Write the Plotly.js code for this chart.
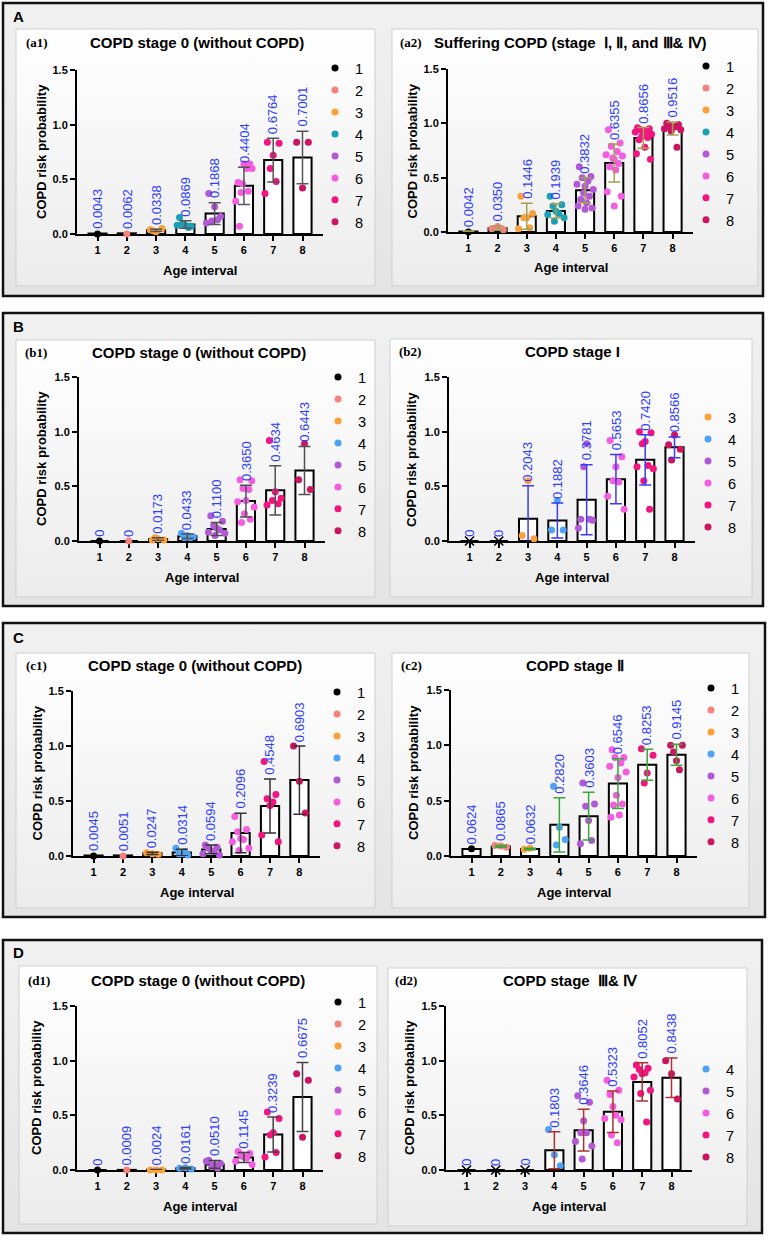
<!DOCTYPE html>
<html><head><meta charset="utf-8">
<script src="https://cdn.plot.ly/plotly-3.0.1.min.js"></script>
<style>html,body{margin:0;padding:0;background:#fff;}#chart{width:770px;height:1240px;}</style>
</head><body><div id="chart"></div>
<script>
const categories = [1, 2, 3, 4, 5, 6, 7, 8];
const seriesNames = ['1', '2', '3', '4', '5', '6', '7', '8'];

const a1Means = [0.0043, 0.0062, 0.0338, 0.0869, 0.1868, 0.4404, 0.6764, 0.7001];
const a1SD = [null, null, 0.01, 0.035, 0.10, 0.17, 0.20, 0.24];
const a1Points = [[0], [0], [0.02, 0.04, 0.05, 0.03], [0.08, 0.15, 0.07, 0.09, 0.06, 0.08],
  [0.25, 0.37, 0.16, 0.12, 0.13, 0.10], [0.64, 0.47, 0.64, 0.38, 0.60, 0.30, 0.60, 0.46, 0.39, 0.07],
  [0.72, 0.84, 0.83, 0.60, 0.48, 0.37], [0.42, 0.84, 0.84]];

const a2Means = [0.0042, 0.0350, 0.1446, 0.1939, 0.3832, 0.6355, 0.8656, 0.9516];
const a2SD = [0.006, 0.02, 0.12, 0.065, 0.115, 0.175, 0.095, 0.06];
const a2Points = [[0], [0.05, 0.03, 0.02], [0.13, 0.33, 0.17, 0.13, 0.04, 0.03],
  [0.19, 0.33, 0.25, 0.24, 0.17, 0.16, 0.13, 0.10],
  [0.42, 0.60, 0.51, 0.50, 0.47, 0.44, 0.39, 0.36, 0.33, 0.30, 0.27, 0.24, 0.22, 0.21],
  [0.67, 0.94, 0.82, 0.79, 0.74, 0.71, 0.70, 0.68, 0.63, 0.60, 0.57, 0.37, 0.33, 0.24],
  [0.91, 0.96, 0.95, 0.94, 0.93, 0.92, 0.90, 0.88, 0.87, 0.85, 0.78, 0.72, 0.67],
  [0.96, 1.00, 0.99, 0.98, 0.97, 0.95, 0.94, 0.93, 0.78]];

const b1Means = [0, 0, 0.0173, 0.0433, 0.1100, 0.3650, 0.4634, 0.6443];
const b1SD = [null, null, 0.012, 0.02, 0.06, 0.145, 0.225, 0.22];
const b1Points = [[0], [0], [0.02, 0.01, 0.01, 0.03], [0.05, 0.07, 0.04, 0.03, 0.03],
  [0.12, 0.23, 0.18, 0.14, 0.10, 0.08, 0.07, 0.05],
  [0.37, 0.56, 0.55, 0.48, 0.47, 0.36, 0.31, 0.25, 0.20, 0.17],
  [0.45, 0.92, 0.39, 0.37, 0.34, 0.33], [0.89, 0.56, 0.47]];

const b2Means = [0, 0, 0.2043, 0.1882, 0.3781, 0.5653, 0.7420, 0.8566];
const b2SD = [null, null, 0.30, 0.16, 0.32, 0.225, 0.23, 0.095];
const b2Points = [[], [], [0.55, 0.05, 0.02], [0.37, 0.10, 0.10], [0.89, 0.20, 0.19, 0.68, 0.20, 0.12],
  [0.68, 0.92, 0.77, 0.55, 0.54, 0.41, 0.29], [0.91, 1.0, 0.99, 0.89, 0.69, 0.68, 0.66, 0.55, 0.29],
  [0.97, 0.88, 0.84, 0.74]];

const c1Means = [0.0045, 0.0051, 0.0247, 0.0314, 0.0594, 0.2096, 0.4548, 0.6903];
const c1SD = [null, null, 0.01, 0.03, 0.04, 0.18, 0.245, 0.31];
const c1Points = [[0], [0], [0.02, 0.03, 0.015], [0.02, 0.07, 0.01, 0.02, 0.04],
  [0.05, 0.10, 0.08, 0.07, 0.04, 0.02, 0.01], [0.16, 0.36, 0.24, 0.22, 0.15, 0.13, 0.07, 0.05],
  [0.46, 0.86, 0.56, 0.52, 0.49, 0.19, 0.13], [0.68, 1.0, 0.39]];

const c2Means = [0.0624, 0.0865, 0.0632, 0.2820, 0.3603, 0.6546, 0.8253, 0.9145];
const c2SD = [null, 0.008, 0.006, 0.245, 0.215, 0.225, 0.14, 0.095];
const c2Points = [[0.066], [0.09, 0.095, 0.08], [0.07, 0.06], [0.26, 0.63, 0.15, 0.10],
  [0.32, 0.66, 0.47, 0.45, 0.14, 0.11],
  [0.71, 0.96, 0.89, 0.89, 0.84, 0.81, 0.76, 0.55, 0.47, 0.46, 0.37, 0.35],
  [0.75, 0.97, 0.91, 0.66], [0.86, 1.0, 1.0, 0.94, 0.78]];

const d1Means = [0, 0.0009, 0.0024, 0.0161, 0.0510, 0.1145, 0.3239, 0.6675];
const d1SD = [null, null, 0.002, 0.006, 0.035, 0.045, 0.16, 0.315];
const d1Points = [[0], [0], [0, 0, 0], [0.02, 0.015, 0.01], [0.05, 0.09, 0.06, 0.03, 0.015, 0.08],
  [0.12, 0.17, 0.15, 0.14, 0.11, 0.08, 0.05], [0.34, 0.53, 0.47, 0.32, 0.16, 0.12], [0.30, 0.88, 0.82]];

const d2Means = [0, 0, 0, 0.1803, 0.3646, 0.5323, 0.8052, 0.8438];
const d2SD = [null, null, null, 0.17, 0.19, 0.19, 0.175, 0.18];
const d2Points = [[], [], [], [0.14, 0.37, 0.04], [0.45, 0.68, 0.62, 0.34, 0.34, 0.26, 0.22, 0.10],
  [0.58, 0.82, 0.73, 0.69, 0.50, 0.47, 0.46, 0.32, 0.25],
  [0.88, 0.96, 0.93, 0.92, 0.89, 0.85, 0.73, 0.70, 0.44], [0.88, 1.0, 0.65]];

const yTickVals = [0, 0.5, 1.0, 1.5];
const yTickText = ['0.0', '0.5', '1.0', '1.5'];

const colorsA = ['#000000', '#f4837d', '#fca13a', '#1a9fb5', '#b259d6', '#f55de0', '#f2157f', '#cc1461'];
const colorsBCD = ['#000000', '#f4837d', '#fca13a', '#4fa3f7', '#b259d6', '#f55de0', '#f2157f', '#cc1461'];

const W = 770, H = 1240;
const px = x => x / W;
const py = y => 1 - y / H;
const FONT = 'Arial, "Liberation Sans", sans-serif';
const SERIF = '"Times New Roman", "Liberation Serif", serif';
const JITTER = [0, -0.2, 0.2, -0.1, 0.1, -0.28, 0.28, -0.05, 0.15, -0.15, 0.05, -0.24, 0.24, 0.0, -0.12];

const panels = [
  {tag: '(a1)', title: 'COPD stage 0 (without COPD)', means: a1Means, sd: a1SD, pts: a1Points, colors: colorsA, err: '#555555',
   ax: [77, 323, 234, 70], box: [16, 29, 375, 286], tagX: 37, titleX: 197, titleY: 43, ytX: 42, leg: [335, 68]},
  {tag: '(a2)', title: 'Suffering COPD (stage  Ⅰ, Ⅱ, and Ⅲ& Ⅳ)', means: a2Means, sd: a2SD, pts: a2Points, colors: colorsA, err: '#a3a050',
   ax: [448, 693, 232, 69], box: [392, 29, 758, 286], tagX: 411, titleX: 570, titleY: 43, ytX: 412, leg: [706, 66]},
  {tag: '(b1)', title: 'COPD stage 0 (without COPD)', means: b1Means, sd: b1SD, pts: b1Points, colors: colorsBCD, err: '#505050',
   ax: [79, 325, 541, 377], box: [16, 340, 375, 597], tagX: 36, titleX: 199, titleY: 352, ytX: 42, leg: [338, 377]},
  {tag: '(b2)', title: 'COPD stage I', means: b2Means, sd: b2SD, pts: b2Points, colors: colorsBCD, err: '#3b3bf5',
   ax: [449, 695, 541, 377], box: [390, 339, 752, 597], tagX: 410, titleX: 572, titleY: 351, ytX: 412, leg: [708, 417]},
  {tag: '(c1)', title: 'COPD stage 0 (without COPD)', means: c1Means, sd: c1SD, pts: c1Points, colors: colorsBCD, err: '#333333',
   ax: [73, 320, 856, 691], box: [16, 653, 375, 908], tagX: 36, titleX: 195, titleY: 665, ytX: 37, leg: [337, 692]},
  {tag: '(c2)', title: 'COPD stage Ⅱ', means: c2Means, sd: c2SD, pts: c2Points, colors: colorsBCD, err: '#3aa63a',
   ax: [451, 697, 856, 690], box: [392, 653, 749, 908], tagX: 411, titleX: 575, titleY: 665, ytX: 413, leg: [711, 688]},
  {tag: '(d1)', title: 'COPD stage 0 (without COPD)', means: d1Means, sd: d1SD, pts: d1Points, colors: colorsBCD, err: '#444444',
   ax: [77, 323, 1170, 1006], box: [19, 966, 377, 1224], tagX: 39, titleX: 198, titleY: 980, ytX: 36, leg: [338, 1002]},
  {tag: '(d2)', title: 'COPD stage  Ⅲ& Ⅳ', means: d2Means, sd: d2SD, pts: d2Points, colors: colorsBCD, err: '#b03030',
   ax: [446, 692, 1170, 1006], box: [388, 968, 747, 1226], tagX: 406, titleX: 570, titleY: 980, ytX: 409, leg: [706, 1069]}
];

const sections = [
  {label: 'A', box: [3, 3, 763, 296], ly: 16},
  {label: 'B', box: [3, 313, 763, 606], ly: 327},
  {label: 'C', box: [3, 623, 765, 917], ly: 637},
  {label: 'D', box: [3, 940, 762, 1233], ly: 952}
];

function gradSrc(c0, c1) {
  const svg = '<svg xmlns="http://www.w3.org/2000/svg" width="100" height="100" viewBox="0 0 100 100" preserveAspectRatio="none">' +
    '<defs><linearGradient id="g" x1="0" y1="0" x2="0" y2="1"><stop offset="0" stop-color="' + c0 + '"/><stop offset="1" stop-color="' + c1 + '"/></linearGradient></defs>' +
    '<rect x="0" y="0" width="100" height="100" fill="url(#g)"/></svg>';
  return 'data:image/svg+xml;charset=utf-8,' + encodeURIComponent(svg);
}

const traces = [];
const annotations = [];
const shapes = [];
const images = [];
const layout = {
  width: W, height: H, margin: {l: 0, r: 0, t: 0, b: 0},
  paper_bgcolor: '#ffffff', plot_bgcolor: 'rgba(0,0,0,0)',
  font: {family: FONT, color: '#000'},
  showlegend: true, barmode: 'overlay'
};

sections.forEach(s => {
  const [x0, y0, x1, y1] = s.box;
  images.push({source: gradSrc('#f1f1f1', '#e4e4e4'), xref: 'paper', yref: 'paper', x: px(x0), y: py(y0),
    sizex: (x1 - x0) / W, sizey: (y1 - y0) / H, sizing: 'stretch', xanchor: 'left', yanchor: 'top', layer: 'below'});
  shapes.push({type: 'rect', xref: 'paper', yref: 'paper', x0: px(x0), x1: px(x1), y0: py(y0), y1: py(y1),
    line: {color: '#111', width: 2.5}, fillcolor: 'rgba(0,0,0,0)', layer: 'below'});
  annotations.push({text: '<b>' + s.label + '</b>', xref: 'paper', yref: 'paper', x: px(18), y: py(s.ly),
    xanchor: 'center', yanchor: 'middle', showarrow: false, font: {family: FONT, size: 15, color: '#000'}});
});

panels.forEach((p, k) => {
  const n = k + 1;
  const xa = n === 1 ? 'x' : 'x' + n;
  const ya = n === 1 ? 'y' : 'y' + n;
  const legId = n === 1 ? 'legend' : 'legend' + n;
  const [ax0, ax1, ay0, ay1] = p.ax;
  const [bx0, by0, bx1, by1] = p.box;

  images.push({source: gradSrc('#ffffff', '#ececec'), xref: 'paper', yref: 'paper', x: px(bx0), y: py(by0),
    sizex: (bx1 - bx0) / W, sizey: (by1 - by0) / H, sizing: 'stretch', xanchor: 'left', yanchor: 'top', layer: 'below'});
  shapes.push({type: 'rect', xref: 'paper', yref: 'paper', x0: px(bx0), x1: px(bx1), y0: py(by0), y1: py(by1),
    line: {color: '#cfcfcf', width: 1}, fillcolor: 'rgba(0,0,0,0)', layer: 'below'});

  layout[n === 1 ? 'xaxis' : 'xaxis' + n] = {
    domain: [px(ax0), px(ax1)], anchor: ya, range: [0.3, 8.7], tickvals: categories, ticktext: seriesNames,
    showline: true, linecolor: '#000', linewidth: 2, ticks: 'outside', ticklen: 5, tickwidth: 2, tickcolor: '#000',
    showgrid: false, zeroline: false, fixedrange: true, layer: 'below traces',
    tickfont: {family: FONT, size: 11, weight: 'bold', color: '#000'}
  };
  layout[n === 1 ? 'yaxis' : 'yaxis' + n] = {
    domain: [py(ay0), py(ay1)], anchor: xa, range: [0, 1.5], tickvals: yTickVals, ticktext: yTickText,
    showline: true, linecolor: '#000', linewidth: 2, ticks: 'outside', ticklen: 5, tickwidth: 2, tickcolor: '#000',
    showgrid: false, zeroline: false, fixedrange: true, layer: 'below traces',
    tickfont: {family: FONT, size: 11, weight: 'bold', color: '#000'}
  };

  // bars
  traces.push({type: 'bar', x: categories, y: p.means, width: 0.62, xaxis: xa, yaxis: ya, showlegend: false,
    marker: {color: '#ffffff', line: {color: '#000', width: 2}}, hoverinfo: 'skip'});

  // points per category
  categories.forEach((c, i) => {
    const vals = p.pts[i];
    if (!vals.length) return;
    traces.push({type: 'scatter', mode: 'markers', name: seriesNames[i], legend: legId,
      x: vals.map((v, j) => c + JITTER[j % JITTER.length]), y: vals, xaxis: xa, yaxis: ya, cliponaxis: false,
      marker: {color: p.colors[i], size: 7}, hoverinfo: 'skip'});
  });

  // empty categories marked with a cross at zero
  const emptyX = categories.filter((c, i) => !p.pts[i].length);
  if (emptyX.length) {
    traces.push({type: 'scatter', mode: 'markers', x: emptyX, y: emptyX.map(() => 0), xaxis: xa, yaxis: ya,
      cliponaxis: false, showlegend: false, hoverinfo: 'skip',
      marker: {symbol: 'x-thin', size: 9, line: {color: '#000', width: 1.6}}});
  }

  // error bars on top
  traces.push({type: 'scatter', mode: 'markers', x: categories, y: p.means, xaxis: xa, yaxis: ya, showlegend: false,
    hoverinfo: 'skip', marker: {size: 1, color: 'rgba(0,0,0,0)'},
    error_y: {type: 'data', array: p.sd.map(v => v === null ? NaN : v), symmetric: true, color: p.err, thickness: 1.5, width: 6}});

  // value labels
  categories.forEach((c, i) => {
    const m = p.means[i];
    const top = m + (p.sd[i] || 0) + 0.02;
    annotations.push({text: m === 0 ? '0' : m.toFixed(4), xref: xa, yref: ya, x: c, y: top, textangle: -90,
      xanchor: 'center', yanchor: 'bottom', showarrow: false, font: {family: FONT, size: 13, color: '#2d3cff'}});
  });

  // tag, title, axis titles
  annotations.push({text: '<b>' + p.tag + '</b>', xref: 'paper', yref: 'paper', x: px(p.tagX), y: py(p.titleY),
    xanchor: 'center', yanchor: 'middle', showarrow: false, font: {family: SERIF, size: 13, color: '#000'}});
  annotations.push({text: '<b>' + p.title + '</b>', xref: 'paper', yref: 'paper', x: px(p.titleX), y: py(p.titleY),
    xanchor: 'center', yanchor: 'middle', showarrow: false, font: {family: FONT, size: 15, color: '#000'}});
  annotations.push({text: '<b>COPD risk probability</b>', xref: 'paper', yref: 'paper', x: px(p.ytX), y: py((ay0 + ay1) / 2),
    textangle: -90, xanchor: 'center', yanchor: 'middle', showarrow: false, font: {family: FONT, size: 13, color: '#000'}});
  annotations.push({text: '<b>Age interval</b>', xref: 'paper', yref: 'paper', x: px((ax0 + ax1) / 2), y: py(ay0 + 36),
    xanchor: 'center', yanchor: 'middle', showarrow: false, font: {family: FONT, size: 13, color: '#000'}});

  layout[legId] = {x: px(p.leg[0] - 20), y: py(p.leg[1] - 16), xanchor: 'left', yanchor: 'top',
    bgcolor: 'rgba(0,0,0,0)', borderwidth: 0, font: {family: FONT, size: 14.6, color: '#000'}, traceorder: 'normal'};
});

layout.annotations = annotations;
layout.shapes = shapes;
layout.images = images;

Plotly.newPlot('chart', traces, layout, {displayModeBar: false, staticPlot: true});
</script></body></html>
